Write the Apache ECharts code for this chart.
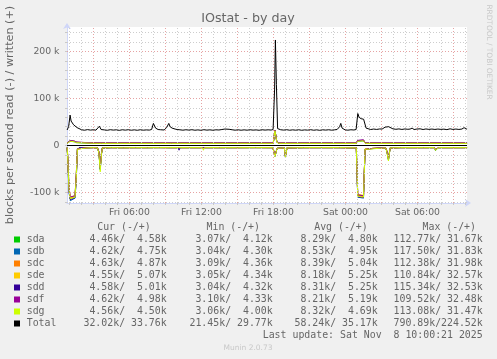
<!DOCTYPE html>
<html><head><meta charset="utf-8">
<script src="https://cdn.jsdelivr.net/npm/echarts@6.0.0/dist/echarts.min.js"></script>
<style>html,body{margin:0;padding:0;background:#f0f0f0;}#c{width:497px;height:359px;}</style>
</head><body><div id="c"></div>
<script>
// ---------------- DATA ----------------
// time axis in hours since Fri 00:00
const xTickVals = [6, 12, 18, 24, 30];
const xTickLabels = ['Fri 06:00', 'Fri 12:00', 'Fri 18:00', 'Sat 00:00', 'Sat 06:00'];
const yTickVals = [-100, 0, 100, 200];
const yTickLabels = ['-100 k', '0', '100 k', '200 k'];

const devNames = ['sda', 'sdb', 'sdc', 'sde', 'sdd', 'sdf', 'sdg'];
const devColors = ['#00CC00', '#0066B3', '#FF8000', '#FFCC00', '#330099', '#990099', '#CCFF00'];

// read (negative) samples, k blocks/s
const readT = [
  0.80, 0.84, 0.96, 1.06, 1.46, 1.56, 1.66, 1.80, 2.30, 2.90,
  3.33, 3.45, 3.56, 3.66, 3.74, 4.50, 5.50, 6.50, 7.50, 8.50,
  9.30, 9.38, 9.46, 10.05, 10.13, 10.21, 11.00, 12.08, 12.16, 12.24,
  13.50, 15.00, 16.50, 17.95, 18.12, 18.30, 18.45, 18.90, 19.00, 19.12,
  20.50, 22.00, 23.50, 24.90, 25.02, 25.50, 25.63, 25.75, 26.00, 26.30,
  26.45, 27.35, 27.45, 27.58, 27.72, 28.60, 28.70, 28.80, 30.50, 30.58,
  30.66, 31.40, 31.50, 31.62, 31.75, 33.00, 34.13
];
const readSda = [
  -4.5, -18, -90, -112.8, -108, -65, -7, -4.6, -5, -4.5,
  -4.8, -14, -50, -18, -4.8, -4.5, -4.6, -4.5, -4.5, -4.4,
  -4.5, -6, -4.5, -4.5, -5, -4.5, -4.5, -4.5, -7, -4.5,
  -4.5, -4.5, -4.4, -4.5, -22, -6, -4.5, -5, -24, -5,
  -4.5, -4.4, -4.5, -5, -105, -107, -8, -5, -7, -6,
  -4.5, -5, -12, -30, -5, -4.5, -6, -4.5, -4.5, -7,
  -4.5, -4.5, -11, -7, -4.5, -4.5, -4.5
];
const readSdb = [
  -4.6, -22, -100, -117.5, -112, -75, -9, -4.7, -5.2, -4.6,
  -5, -15, -52, -19, -5, -4.6, -4.7, -4.6, -4.6, -4.5,
  -4.6, -6.5, -4.6, -4.6, -5, -4.6, -4.6, -4.6, -7, -4.6,
  -4.6, -4.6, -4.5, -4.6, -23, -6, -4.6, -5, -25, -5,
  -4.6, -4.6, -4.6, -5, -110, -112, -9, -5, -7, -6.5,
  -4.6, -5, -13, -31, -5, -4.6, -6, -4.6, -4.6, -7.5,
  -4.6, -4.6, -9, -7, -4.6, -4.6, -4.6
];
const readSdc = [
  -4.6, -19, -92, -112.4, -109, -68, -8, -4.7, -5, -4.6,
  -4.9, -14, -48, -18, -5, -4.6, -4.7, -4.6, -4.6, -4.5,
  -4.6, -6, -4.6, -4.6, -5, -4.6, -4.6, -4.6, -7, -4.6,
  -4.6, -4.6, -4.5, -4.6, -22, -6, -4.6, -5, -24, -5,
  -4.6, -4.6, -4.6, -5, -106, -109, -8, -5, -7, -6,
  -4.6, -5, -12, -29, -5, -4.6, -6, -4.6, -4.6, -7,
  -4.6, -4.6, -9, -7, -4.6, -4.6, -4.6
];
const readSde = [
  -4.5, -17, -88, -110.8, -106, -62, -7, -4.6, -5, -4.5,
  -4.8, -13, -45, -17, -4.8, -4.5, -4.6, -4.5, -4.5, -4.4,
  -4.5, -6, -4.5, -4.5, -5, -4.5, -4.5, -4.5, -7, -4.5,
  -4.5, -4.5, -4.4, -4.5, -21, -6, -4.5, -5, -23, -5,
  -4.5, -4.4, -4.5, -5, -104, -106, -7, -5, -7, -6,
  -4.5, -5, -12, -28, -5, -4.5, -6, -4.5, -4.5, -7,
  -4.5, -4.5, -9, -7, -4.5, -4.5, -4.5
];
const readSdd = [
  -4.6, -21, -98, -115.3, -111, -72, -9, -4.7, -5.1, -4.6,
  -5, -15, -50, -19, -5, -4.6, -4.7, -4.6, -4.6, -4.5,
  -4.6, -6, -4.6, -4.6, -10, -4.6, -4.6, -4.6, -7, -4.6,
  -4.6, -4.6, -4.5, -4.6, -23, -6, -4.6, -5, -25, -5,
  -4.6, -4.6, -4.6, -5, -109, -111, -9, -5, -7, -6.5,
  -4.6, -5, -13, -30, -5, -4.6, -6, -4.6, -4.6, -7,
  -4.6, -4.6, -9, -7, -4.6, -4.6, -4.6
];
const readSdf = [
  -4.6, -18, -89, -109.5, -107, -64, -7, -4.7, -5, -4.6,
  -4.9, -13, -47, -17, -5, -4.6, -4.7, -4.6, -4.6, -4.5,
  -4.6, -6, -4.6, -4.6, -5, -4.6, -4.6, -4.6, -7, -4.6,
  -4.6, -4.6, -4.5, -4.6, -22, -6, -4.6, -5, -24, -5,
  -4.6, -4.6, -4.6, -5, -105, -107, -8, -5, -7, -6,
  -4.6, -5, -12, -27, -5, -4.6, -6, -4.6, -4.6, -7,
  -4.6, -4.6, -9, -7, -4.6, -4.6, -4.6
];
const readSdg = [
  -4.5, -20, -95, -113.1, -110, -70, -8, -5, -5.5, -4.5,
  -5, -16, -56, -20, -5, -4.5, -4.8, -4.5, -4.6, -4.5,
  -4.5, -8.5, -4.5, -4.5, -4.5, -4.5, -4.5, -4.5, -10, -4.5,
  -4.5, -4.6, -4.5, -4.5, -24, -6, -4.5, -5, -26, -5,
  -4.5, -4.5, -4.5, -5, -108, -110, -8, -5, -8, -7,
  -4.5, -5, -14, -33, -5, -4.5, -7, -4.5, -4.5, -8.5,
  -4.5, -4.5, -10, -8, -4.5, -4.5, -4.6
];

// written (positive) samples
const writeT = [0.80, 0.90, 1.05, 1.40, 1.60, 1.75, 3.45, 3.56, 3.68, 9.30,
  9.40, 9.50, 17.98, 18.12, 18.28, 18.45, 24.90, 25.02, 25.50, 25.65, 34.13];
const writeSda = [4.6, 7, 9, 8, 6, 4.6, 4.6, 6, 4.6, 4.6, 6, 4.6, 4.7, 31.67, 7, 4.6, 4.6, 9, 10, 4.6, 4.6];
const writeSdb = [4.8, 7.5, 9.5, 8.5, 6.5, 4.8, 4.8, 6, 4.8, 4.8, 6, 4.8, 4.9, 31.83, 7, 4.8, 4.8, 9.5, 10.5, 4.8, 4.8];
const writeSdc = [4.9, 7.5, 9.5, 8.5, 6.5, 4.9, 4.9, 6, 4.9, 4.9, 6.5, 4.9, 5.0, 31.98, 7, 4.9, 4.9, 10, 11, 4.9, 4.9];
const writeSde = [5.1, 8, 10, 9, 7, 5.1, 5.1, 6.5, 5.1, 5.1, 6.5, 5.1, 5.2, 32.57, 7.5, 5.1, 5.1, 10, 11, 5.1, 5.1];
const writeSdd = [5.0, 8, 10, 9, 7, 5.0, 5.0, 6.5, 5.0, 5.0, 6.5, 5.0, 5.1, 32.53, 7.5, 5.0, 5.0, 10.5, 11.5, 5.0, 5.0];
const writeSdf = [5.3, 8.5, 10.5, 9.5, 7, 5.3, 5.3, 6.5, 5.3, 5.3, 6.5, 5.3, 5.4, 32.48, 7.5, 5.3, 5.3, 11, 12, 5.3, 5.3];
const writeSdg = [4.5, 7, 9, 8, 6, 4.5, 4.5, 6, 4.5, 4.5, 8, 4.5, 4.6, 31.47, 7, 4.5, 4.5, 9, 10, 4.5, 4.5];

// Total written
const totalT = [
  0.80, 0.925, 1.05, 1.133, 1.217, 1.342, 1.467, 1.633, 1.758, 2.0,
  2.25, 2.5, 2.75, 3.0, 3.2, 3.342, 3.492, 3.633, 3.9, 4.15,
  4.4, 4.65, 4.9, 5.15, 5.4, 5.65, 5.9, 6.15, 6.4, 6.65,
  6.9, 7.15, 7.4, 7.65, 7.842, 7.992, 8.175, 8.383, 8.6, 8.883,
  9.092, 9.275, 9.383, 9.55, 9.80, 9.967, 10.2, 10.45, 10.7, 10.95,
  11.2, 11.45, 11.7, 11.95, 12.2, 12.45, 12.7, 12.95, 13.2, 13.45,
  13.7, 13.95, 14.1, 14.3, 14.55, 14.8, 15.05, 15.3, 15.55, 15.8,
  16.05, 16.3, 16.55, 16.8, 17.05, 17.3, 17.55, 17.8, 17.967, 18.092,
  18.158, 18.242, 18.342, 18.6, 18.85, 19.1, 19.35, 19.6, 19.85, 20.1,
  20.35, 20.6, 20.85, 21.1, 21.35, 21.6, 21.85, 22.1, 22.35, 22.6,
  22.85, 23.1, 23.30, 23.508, 23.608, 23.717, 23.97, 24.2, 24.45, 24.7,
  24.883, 25.025, 25.133, 25.30, 25.383, 25.508, 25.608, 25.717, 25.883, 26.1,
  26.35, 26.6, 26.85, 27.05, 27.30, 27.425, 27.592, 27.717, 27.95, 28.2,
  28.45, 28.7, 28.95, 29.2, 29.383, 29.55, 29.717, 29.95, 30.217, 30.30,
  30.467, 30.7, 30.95, 31.2, 31.45, 31.7, 31.95, 32.2, 32.45, 32.717,
  32.95, 33.2, 33.45, 33.7, 33.883, 34.05, 34.13
];
const totalW = [
  33, 40, 64.6, 52, 48, 44, 46, 38, 34, 33.5,
  32.5, 33.8, 32.8, 33.5, 32.6, 33, 41, 34, 33.2, 32.4,
  33.6, 32.8, 33.4, 32.2, 33.5, 32.7, 33.6, 32.5, 33.3, 32.4,
  33.5, 32.6, 33.2, 32.8, 34, 47, 37, 34, 33.5, 33,
  38, 47, 40, 37, 35, 34, 33.4, 32.6, 33.5, 32.8,
  33.6, 32.5, 33.2, 32.4, 33.6, 32.7, 33.3, 32.5, 33.4, 33,
  34, 35, 36.5, 34.5, 33.5, 32.6, 33.4, 32.5, 33.3, 32.6,
  33.5, 32.7, 33.2, 32.4, 33.5, 32.8, 33.4, 32.9, 34, 120,
  224.5, 130, 36, 33.5, 32.8, 33.6, 32.5, 33.3, 32.6, 33.5,
  32.4, 33.2, 32.7, 33.6, 32.5, 33.3, 32.3, 33.4, 32.8, 33.5,
  32.6, 33.4, 34, 40, 47, 37, 33.2, 32.6, 33.5, 33,
  34, 68, 60, 57, 60, 56, 57, 37, 35, 34,
  35, 34.2, 35.2, 35, 39, 42, 40, 36, 35.5, 34.5,
  35.3, 34.2, 35.2, 34.5, 35, 37, 34, 35, 35.5, 37,
  34, 35.2, 34.3, 35, 34.2, 35, 34.3, 34.8, 33.8, 35.5,
  34.2, 35, 34.2, 35, 38, 35, 35.5
];

// legend table
const legNames = ['sda', 'sdb', 'sdc', 'sde', 'sdd', 'sdf', 'sdg', 'Total'];
const legColors = ['#00CC00', '#0066B3', '#FF8000', '#FFCC00', '#330099', '#990099', '#CCFF00', '#000000'];
const legCur = [['4.46', '4.58'], ['4.62', '4.75'], ['4.63', '4.87'], ['4.55', '5.07'], ['4.58', '5.01'], ['4.62', '4.98'], ['4.56', '4.50'], ['32.02', '33.76']];
const legMin = [['3.07', '4.12'], ['3.04', '4.30'], ['3.09', '4.36'], ['3.05', '4.34'], ['3.04', '4.32'], ['3.10', '4.33'], ['3.06', '4.00'], ['21.45', '29.77']];
const legAvg = [['8.29', '4.80'], ['8.53', '4.95'], ['8.39', '5.04'], ['8.18', '5.25'], ['8.31', '5.25'], ['8.21', '5.19'], ['8.32', '4.69'], ['58.24', '35.17']];
const legMax = [['112.77', '31.67'], ['117.50', '31.83'], ['112.38', '31.98'], ['110.84', '32.57'], ['115.34', '32.53'], ['109.52', '32.48'], ['113.08', '31.47'], ['790.89', '224.52']];
const legHeaders = ['Cur (-/+)', 'Min (-/+)', 'Avg (-/+)', 'Max (-/+)'];
const lastUpdate = 'Last update: Sat Nov  8 10:00:21 2025';

// ---------------- CHART ----------------
const reads = [readSda, readSdb, readSdc, readSde, readSdd, readSdf, readSdg];
const writes = [writeSda, writeSdb, writeSdc, writeSde, writeSdd, writeSdf, writeSdg];
const zip = (t, v) => t.map((x, i) => [x, v[i]]);

const X0 = 0.79167, X1 = X0 + 400 / 12;
const Y1 = 252.128, Y0 = Y1 - 176 / 0.47;
const GRAY = '#cdcdcd', RED = '#e6a3a3', AXIS = '#CFD6F8', FONT = '#666666';

const gridLines = [];
for (let h = 1; h <= 34; h++) gridLines.push({ xAxis: h, lineStyle: { color: h % 3 === 0 ? RED : GRAY, type: [1, 2], width: 1 } });
for (let v = -120; v <= 240; v += 20) if (v !== 0) gridLines.push({ yAxis: v, lineStyle: { color: v % 100 === 0 ? RED : GRAY, type: [1, 2], width: 1 } });

const series = [{
  type: 'line', data: [], silent: true, z: 1,
  markLine: { silent: true, symbol: 'none', label: { show: false }, emphasis: { disabled: true }, animation: false, data: gridLines }
}];
for (let d = 0; d < devNames.length; d++) {
  series.push({ type: 'line', name: devNames[d] + '_r', data: zip(readT, reads[d]), showSymbol: false, symbol: 'none', lineStyle: { width: 1, color: devColors[d] }, z: 3, silent: true });
  series.push({ type: 'line', name: devNames[d] + '_w', data: zip(writeT, writes[d]), showSymbol: false, symbol: 'none', lineStyle: { width: 1, color: devColors[d] }, z: 3, silent: true });
}
series.push({
  type: 'line', name: 'zero', data: [], z: 4, silent: true,
  markLine: { silent: true, symbol: 'none', label: { show: false }, emphasis: { disabled: true }, animation: false, data: [{ yAxis: 0, lineStyle: { color: '#000', type: 'solid', width: 1 } }] }
});
series.push({ type: 'line', name: 'Total', data: zip(totalT, totalW), showSymbol: false, symbol: 'none', lineStyle: { width: 1, color: '#000' }, z: 5, silent: true });

// graphic texts
const g = [];
const txt = (text, x, y, font, fill, align, extra) => Object.assign({ type: 'text', x: x, y: y, silent: true, style: { text: text, font: font, fill: fill, align: align || 'left', verticalAlign: 'middle' } }, extra || {});
g.push(txt('IOstat - by day', 248, 19, '12.7px "DejaVu Sans"', FONT, 'center'));
g.push(txt('blocks per second read (-) / written (+)', 10, 115, '11.2px "DejaVu Sans"', FONT, 'center', { rotation: Math.PI / 2 }));
g.push(txt('RRDTOOL / TOBI OETIKER', 489, 52, '7.4px "DejaVu Sans"', '#c8c8c8', 'center', { rotation: -Math.PI / 2 }));
const MONO = '9.9px "DejaVu Sans Mono"';
const colEnds = [166.7, 272.7, 377.7, 482.7];
const hdrEnds = [150.7, 260, 367.7, 476];
legHeaders.forEach((h, i) => g.push(txt(h, hdrEnds[i], 227.7, MONO, FONT, 'right')));
const pair = p => p[0].padStart(6) + 'k/' + p[1].padStart(6) + 'k';
legNames.forEach((n, i) => {
  const y = 239.5 + i * 12;
  g.push({ type: 'rect', silent: true, shape: { x: 14, y: y - 3, width: 6, height: 6 }, style: { fill: legColors[i] } });
  g.push(txt(n, 26.7, y, MONO, FONT, 'left'));
  [legCur, legMin, legAvg, legMax].forEach((arr, c) => g.push(txt(pair(arr[i]), colEnds[c], y, MONO, FONT, 'right')));
});
g.push(txt(lastUpdate, 482.7, 335.5, MONO, FONT, 'right'));
g.push(txt('Munin 2.0.73', 248, 348, '7.5px "DejaVu Sans"', '#c8c8c8', 'center'));

const chart = echarts.init(document.getElementById('c'), null, { renderer: 'canvas' });
chart.setOption({
  animation: false,
  backgroundColor: '#f0f0f0',
  grid: { left: 67, right: 30, top: 27, bottom: 156, show: true, backgroundColor: '#ffffff', borderWidth: 0 },
  xAxis: {
    type: 'value', min: X0, max: X1,
    splitLine: { show: false },
    axisLine: { show: true, onZero: false, lineStyle: { color: AXIS, width: 1 }, symbol: ['none', 'arrow'], symbolSize: [6, 6], symbolOffset: [0, 4] },
    axisTick: { show: true, customValues: Array.from({ length: 34 }, (_, i) => i + 1), length: 2, inside: false, lineStyle: { color: '#c8c8c8' } },
    axisLabel: {
      customValues: xTickVals, margin: 5, color: FONT, fontFamily: 'DejaVu Sans', fontSize: 9.3,
      formatter: v => xTickLabels[xTickVals.indexOf(Math.round(v))] || ''
    }
  },
  yAxis: {
    type: 'value', min: Y0, max: Y1,
    splitLine: { show: false },
    axisLine: { show: true, onZero: false, lineStyle: { color: AXIS, width: 1 }, symbol: ['none', 'arrow'], symbolSize: [6, 6], symbolOffset: [0, 4] },
    axisTick: { show: true, customValues: Array.from({ length: 19 }, (_, i) => -120 + i * 20), length: 2, lineStyle: { color: '#c8c8c8' } },
    axisLabel: {
      customValues: yTickVals, margin: 7.5, color: FONT, fontFamily: 'DejaVu Sans', fontSize: 9.3,
      formatter: v => yTickLabels[yTickVals.indexOf(Math.round(v))] || ''
    }
  },
  series: series,
  graphic: g
});
</script>
</body></html>
